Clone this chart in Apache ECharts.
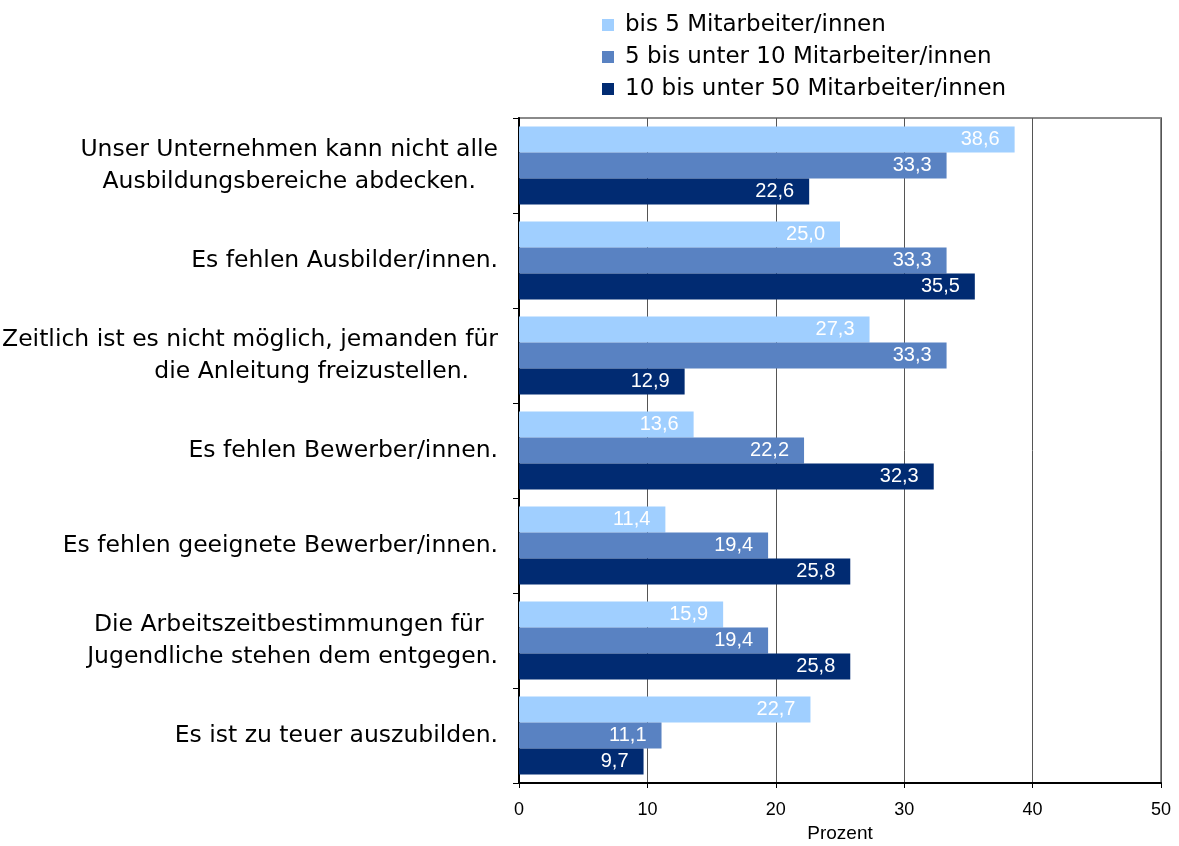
<!DOCTYPE html>
<html>
<head>
<meta charset="utf-8">
<script src="https://cdn.jsdelivr.net/npm/echarts@6/dist/echarts.min.js"></script>
<style>
  html, body { margin: 0; padding: 0; background: #fff; }
  #chart { width: 1179px; height: 846px; }
</style>
</head>
<body>
<div id="chart"></div>
<script>
  // Kategorien (von oben nach unten)
  var categories = [
    'Unser Unternehmen kann nicht alle\nAusbildungsbereiche abdecken.',
    'Es fehlen Ausbilder/innen.',
    'Zeitlich ist es nicht möglich, jemanden für\ndie Anleitung freizustellen.',
    'Es fehlen Bewerber/innen.',
    'Es fehlen geeignete Bewerber/innen.',
    'Die Arbeitszeitbestimmungen für \nJugendliche stehen dem entgegen.',
    'Es ist zu teuer auszubilden.'
  ];

  var seriesNames = [
    'bis 5 Mitarbeiter/innen',
    '5 bis unter 10 Mitarbeiter/innen',
    '10 bis unter 50 Mitarbeiter/innen'
  ];

  // Werte in Prozent
  var bis5 = [38.6, 25.0, 27.3, 13.6, 11.4, 15.9, 22.7];
  var bis10 = [33.3, 33.3, 33.3, 22.2, 19.4, 19.4, 11.1];
  var bis50 = [22.6, 35.5, 12.9, 32.3, 25.8, 25.8, 9.7];

  var colors = ['#a0cfff', '#5982c2', '#012b72'];

  var chart = echarts.init(document.getElementById('chart'));

  // Zahl mit Komma
  function fmt(p) {
    return p.value.toFixed(1).replace('.', ',');
  }

  function makeSeries(name, data, color) {
    return {
      name: name,
      type: 'bar',
      data: data,
      barGap: 0,
      barCategoryGap: '18%',
      itemStyle: { color: color },
      label: {
        show: true,
        position: 'insideRight',
        distance: 15,
        color: '#fff',
        fontFamily: 'Liberation Sans',
        fontSize: 20,
        formatter: fmt
      }
    };
  }

  var option = {
    animation: false,
    backgroundColor: '#fff',
    color: colors,
    legend: {
      orient: 'vertical',
      left: 597,
      top: 8,
      itemWidth: 12,
      itemHeight: 12,
      itemGap: 8,
      icon: 'rect',
      data: seriesNames,
      textStyle: {
        fontFamily: 'DejaVu Sans',
        fontSize: 23,
        lineHeight: 24,
        color: '#000',
        padding: [0, 0, 0, 6]
      }
    },
    grid: {
      left: 519,
      right: 18,
      top: 118,
      bottom: 63,
      outerBoundsMode: 'none',
      show: true,
      borderColor: '#8a8a8a',
      borderWidth: 2
    },
    xAxis: {
      type: 'value',
      min: 0,
      max: 50,
      interval: 10,
      name: 'Prozent',
      nameLocation: 'middle',
      nameGap: 37,
      nameTextStyle: { fontFamily: 'Liberation Sans', fontSize: 19, color: '#000' },
      axisLine: { show: true, lineStyle: { color: '#000', width: 2 } },
      axisTick: { show: true, length: 5, lineStyle: { color: '#000' } },
      axisLabel: { fontFamily: 'Liberation Sans', fontSize: 18, color: '#000', margin: 18 },
      splitLine: { show: true, lineStyle: { color: '#555', width: 1 } }
    },
    yAxis: {
      type: 'category',
      inverse: true,
      data: categories,
      axisLine: { show: true, lineStyle: { color: '#000', width: 2 } },
      axisTick: { show: true, length: 6, lineStyle: { color: '#000' } },
      axisLabel: {
        margin: 21,
        color: '#000',
        fontFamily: 'DejaVu Sans',
        fontSize: 23.5,
        formatter: function (v, i) {
          var lines = v.split('\n');
          if (lines.length === 1) return v;
          return lines.map(function (l, k) {
            return '{' + (i === 2 && k === 1 ? 'r' : 'c') + '|' + l + '}';
          }).join('\n');
        },
        rich: {
          c: { align: 'center', fontFamily: 'DejaVu Sans', fontSize: 23.5, lineHeight: 32, color: '#000' },
          r: { align: 'right', fontFamily: 'DejaVu Sans', fontSize: 23.5, lineHeight: 32, color: '#000', padding: [0, 29, 0, 0] }
        }
      }
    },
    series: [
      makeSeries(seriesNames[0], bis5, colors[0]),
      makeSeries(seriesNames[1], bis10, colors[1]),
      makeSeries(seriesNames[2], bis50, colors[2])
    ]
  };

  chart.setOption(option);
</script>
</body>
</html>
